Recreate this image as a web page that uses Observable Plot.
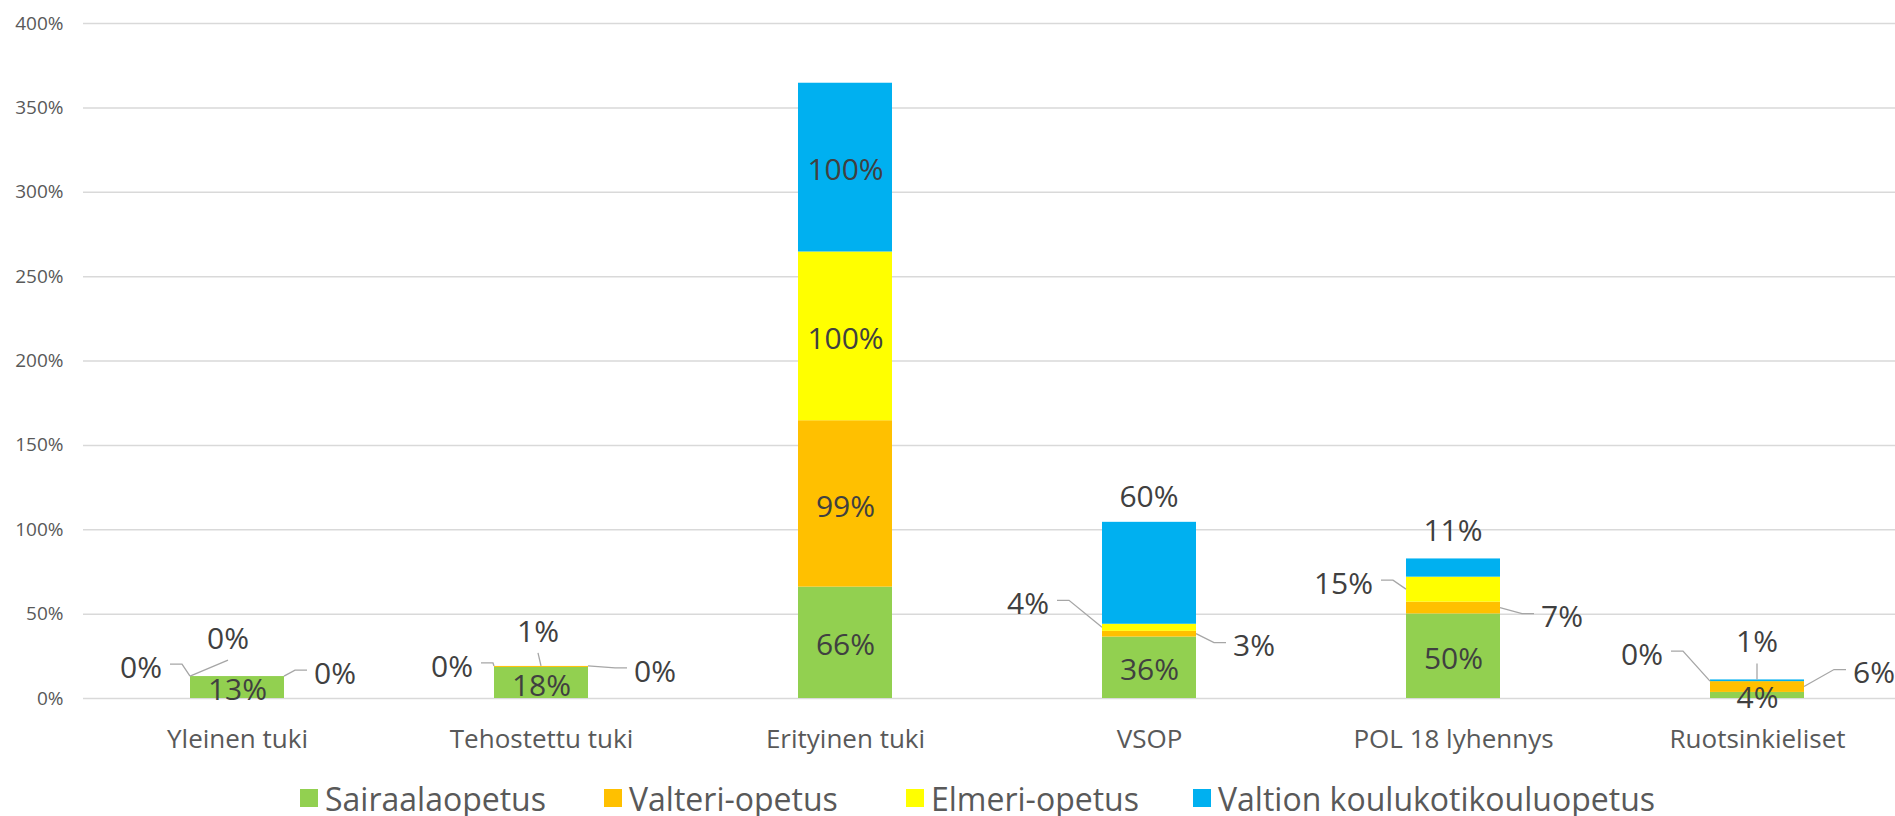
<!DOCTYPE html>
<html>
<head>
<meta charset="utf-8">
<script src="https://cdn.jsdelivr.net/npm/d3@7"></script>
<script src="https://cdn.jsdelivr.net/npm/@observablehq/plot@0.6"></script>
<style>
  html, body { margin: 0; padding: 0; background: #fff; overflow: hidden; }
  #wrap { position: relative; width: 1895px; height: 816px; font-family: 'Open Sans', sans-serif; }
  #legend { position: absolute; left: 0; top: 770px; width: 1895px; height: 56px; }
  .item { position: absolute; top: 0; height: 56px; display: flex; align-items: center;
          font-size: 32px; color: #595959; white-space: nowrap; }
  .sw { width: 18px; height: 18px; margin-right: 7px; flex: none; }
</style>
</head>
<body>
<div id="wrap"><div id="chart"></div><div id="legend"></div></div>
<script>
// ---------------- data ----------------
const categories = ["Yleinen tuki", "Tehostettu tuki", "Erityinen tuki", "VSOP", "POL 18 lyhennys", "Ruotsinkieliset"];
const seriesNames = ["Sairaalaopetus", "Valteri-opetus", "Elmeri-opetus", "Valtion koulukotikouluopetus"];
const sairaalaopetus = [13, 18.4, 66, 36.4, 50.1, 3.6];
const valteriOpetus  = [0, 0.6, 98.6, 3.4, 7.0, 6.4];
const elmeriOpetus   = [0, 0, 100, 4.2, 14.8, 0];
const valtionOpetus  = [0, 0, 100, 60.4, 10.8, 1.0];
const yTicks = [0, 50, 100, 150, 200, 250, 300, 350, 400];
const seriesColors = ["#92D050", "#FFC000", "#FFFF00", "#00B0F0"];

// ---------------- label placement (layout, per category / series) ----------------
const labelLayout = [
  [{p: "in"}, {p: "right", dx: 30, dy: -3}, {p: "left", dx: -28, dy: -9}, {p: "top", dx: -9, dy: -38, at: "left"}],
  [{p: "in"}, {p: "top", dx: -3, dy: -35}, {p: "left", dx: -21, dy: 0}, {p: "right", dx: 46, dy: 5}],
  [{p: "in"}, {p: "in"}, {p: "in"}, {p: "in"}],
  [{p: "in"}, {p: "right", dx: 37, dy: 12}, {p: "left", dx: -53, dy: -24}, {p: "above", dy: -26}],
  [{p: "in"}, {p: "right", dx: 41, dy: 9}, {p: "left", dx: -33, dy: -6}, {p: "above", dy: -28}],
  [{p: "in"}, {p: "right", dx: 49, dy: -14}, {p: "left", dx: -47, dy: -27}, {p: "top", dx: 0, dy: -38}]
];

const seriesValues = [sairaalaopetus, valteriOpetus, elmeriOpetus, valtionOpetus];
const barData = [];
const segs = [];
categories.forEach((cat, ci) => {
  let acc = 0;
  seriesNames.forEach((s, si) => {
    const v = seriesValues[si][ci];
    barData.push({category: cat, series: s, value: v});
    segs.push({category: cat, series: s, value: v, lo: acc, hi: acc + v, mid: acc + v / 2,
               text: Math.round(v) + "%", layout: labelLayout[ci][si]});
    acc += v;
  });
});
const insideSegs = segs.filter(d => d.layout.p === "in");
const outsideSegs = segs.filter(d => d.layout.p !== "in");

const LABEL_FONT = 30;
const LABEL_COLOR = "#404040";
const LEADER_COLOR = "#a6a6a6";

function outsideLabels(index, scales) {
  const x = scales.x, y = scales.y;
  const bw = typeof x.bandwidth === "function" ? x.bandwidth() : x.bandwidth;
  const g = d3.create("svg:g")
    .attr("font-family", "'Open Sans', sans-serif")
    .attr("font-size", LABEL_FONT)
    .attr("fill", LABEL_COLOR);
  for (const d of outsideSegs) {
    const L = d.layout;
    const x0 = x(d.category), xc = x0 + bw / 2, x1 = x0 + bw;
    const yLo = y(d.lo), yHi = y(d.hi), yMid = (yLo + yHi) / 2;
    let tx, ty, anchor, pts = null;
    if (L.p === "left") {
      const ax = x0, ay = yMid;
      tx = ax + L.dx; ty = ay + L.dy; anchor = "end";
      pts = [[tx + 8, ty - 3], [tx + 20, ty - 3], [ax, ay]];
    } else if (L.p === "right") {
      const ax = x1, ay = yMid;
      tx = ax + L.dx; ty = ay + L.dy; anchor = "start";
      pts = [[ax, ay], [tx - 19, ty - 3], [tx - 7, ty - 3]];
    } else if (L.p === "top") {
      const ax = L.at === "left" ? x0 : xc, ay = yHi;
      tx = xc + L.dx; ty = ay + L.dy; anchor = "middle";
      pts = [[tx, ty + 22], [ax, ay]];
    } else { // above
      tx = xc + (L.dx || 0); ty = yHi + L.dy; anchor = "middle";
    }
    if (pts) {
      g.append("path")
        .attr("d", d3.line()(pts))
        .attr("fill", "none")
        .attr("stroke", LEADER_COLOR)
        .attr("stroke-width", 1.3);
    }
    g.append("text")
      .attr("x", tx).attr("y", ty)
      .attr("dy", "0.357em")
      .attr("text-anchor", anchor)
      .text(d.text);
  }
  return g.node();
}

const chart = Plot.plot({
  width: 1895,
  height: 770,
  marginLeft: 83,
  marginRight: 0,
  marginTop: 23,
  marginBottom: 72,
  style: {fontFamily: "'Open Sans', sans-serif", background: "#fff", overflow: "hidden"},
  x: {domain: categories, range: [83, 1911], paddingInner: 0.69, paddingOuter: 0.345, align: 0.5},
  y: {domain: [0, 400]},
  color: {domain: seriesNames, range: seriesColors},
  marks: [
    Plot.ruleY(yTicks, {stroke: "#d9d9d9", strokeWidth: 1.5}),
    Plot.barY(barData, {x: "category", y: "value", fill: "series"}),
    Plot.axisY({ticks: yTicks, tickFormat: d => d + "%", tickSize: 0, tickPadding: 20,
                fontSize: 19, fill: "#595959", label: null}),
    Plot.axisX({tickSize: 0, tickPadding: 31, fontSize: 26, fill: "#595959", label: null}),
    Plot.text(insideSegs, {x: "category", y: "mid", text: "text", dy: 3,
                           fontSize: LABEL_FONT, fill: LABEL_COLOR}),
    outsideLabels
  ]
});
document.getElementById("chart").appendChild(chart);

// legend
const legendLeft = [300, 604, 906, 1193];
const legend = document.getElementById("legend");
seriesNames.forEach((s, i) => {
  const it = document.createElement("div");
  it.className = "item";
  it.style.left = legendLeft[i] + "px";
  const sw = document.createElement("span");
  sw.className = "sw";
  sw.style.background = seriesColors[i];
  const t = document.createElement("span");
  t.textContent = s;
  it.appendChild(sw); it.appendChild(t);
  legend.appendChild(it);
});
</script>
</body>
</html>
